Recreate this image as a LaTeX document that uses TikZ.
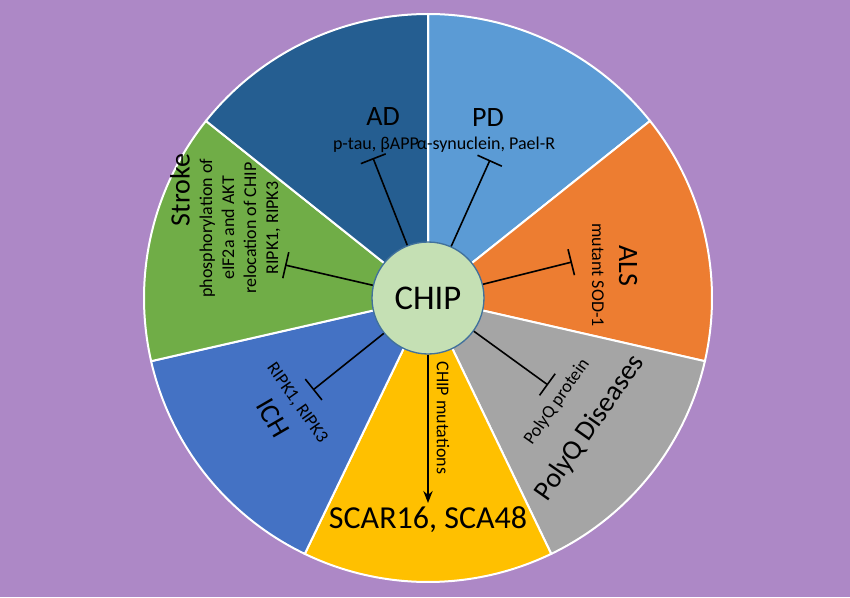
\documentclass[tikz,border=0pt]{standalone}
\usepackage{fontspec}
\setmainfont{Carlito}
\usetikzlibrary{arrows.meta}
\definecolor{bgpurple}{RGB}{173,136,198}
\definecolor{adblue}{RGB}{37,94,145}
\definecolor{pdblue}{RGB}{91,155,213}
\definecolor{alsorange}{RGB}{237,125,49}
\definecolor{polygrey}{RGB}{165,165,165}
\definecolor{scaryellow}{RGB}{255,192,0}
\definecolor{ichblue}{RGB}{68,114,196}
\definecolor{strokegreen}{RGB}{112,173,71}
\definecolor{chipgreen}{RGB}{197,224,180}
\definecolor{chipline}{RGB}{65,113,156}
\tikzset{every picture/.style={line width=0.75pt}}
\tikzset{
  biglabel/.style={font=\fontsize{21}{24}\selectfont, inner sep=0.75pt},
  smalllabel/.style={font=\fontsize{13.5}{16.5}\selectfont, inner sep=0.75pt, align=center},
  inhibit/.style={line width=1.2pt, -{Bar[width=20pt,line width=1.2pt]}},
}
\begin{document}
\begin{tikzpicture}[x=0.75pt,y=0.75pt,yscale=-1]
\useasboundingbox (0,0) rectangle (850,597);
%Background
\fill[bgpurple] (0,0) rectangle (850,597);
\coordinate (c) at (428,298);
%Sectors
\foreach \col/\sa in {pdblue/-90,alsorange/-38.571,polygrey/12.857,scaryellow/64.286,ichblue/115.714,strokegreen/167.143,adblue/218.571}{
  \filldraw[fill=\col, draw=white, line width=1.5pt] (c) -- ++(\sa:213pt) arc[start angle=\sa, delta angle=51.4286, radius=213pt] -- cycle;
}
%CHIP
\node (chip) [circle, minimum size=84pt, fill=chipgreen, draw=chipline, line width=1pt, font=\fontsize{26}{28}\selectfont] at (c) {CHIP};

%End points
\coordinate (adend) at (373,158);
\coordinate (pdend) at (490,160);
\coordinate (alsend) at (572,262);
\coordinate (polyend) at (548,385);
\coordinate (scarend) at (428,503);
\coordinate (ichend) at (313,390);
\coordinate (strokeend) at (285,265);

\draw[inhibit] (chip) -- (adend);
\draw[inhibit] (chip) -- (pdend);
\draw[inhibit] (chip) -- (alsend);
\draw[inhibit] (chip) -- (polyend);
\draw[inhibit] (chip) -- (ichend);
\draw[inhibit] (chip) -- (strokeend);
\draw[line width=1.2pt, -{Stealth[length=9pt,width=7pt]}] (chip) -- (scarend);

% Text Node
\node (ad) [biglabel] at (383,117) {AD};
\node (adsub) [smalllabel] at (376,145) {p-tau, βAPP};
\node (pd) [biglabel] at (488,118) {PD};
\node (pdsub) [smalllabel] at (486,145) {α-synuclein, Pael-R};
\node (als) [biglabel, rotate=-90] at (628,266) {ALS};
\node (alssub) [smalllabel, rotate=-90] at (598,275) {mutant SOD-1};
\node (poly) [biglabel, rotate=55] at (590,428) {PolyQ Diseases};
\node (polysub) [smalllabel, rotate=55] at (557,402) {PolyQ protein};
\node (scar) [font=\fontsize{24}{26}\selectfont, inner sep=0.75pt] at (428,520) {SCAR16, SCA48};
\node (scarsub) [smalllabel, rotate=-90] at (443,418) {CHIP mutations};
\node (ich) [biglabel, rotate=-60] at (273,418) {ICH};
\node (ichsub) [smalllabel, rotate=-55] at (297,403) {RIPK1, RIPK3};
\node (stroke) [biglabel, rotate=90] at (180,190) {Stroke};
\node (strokesub) [smalllabel, rotate=90] at (240,228) {phosphorylation of\\eIF2a and AKT\\relocation of CHIP\\RIPK1, RIPK3};

\end{tikzpicture}
\end{document}
